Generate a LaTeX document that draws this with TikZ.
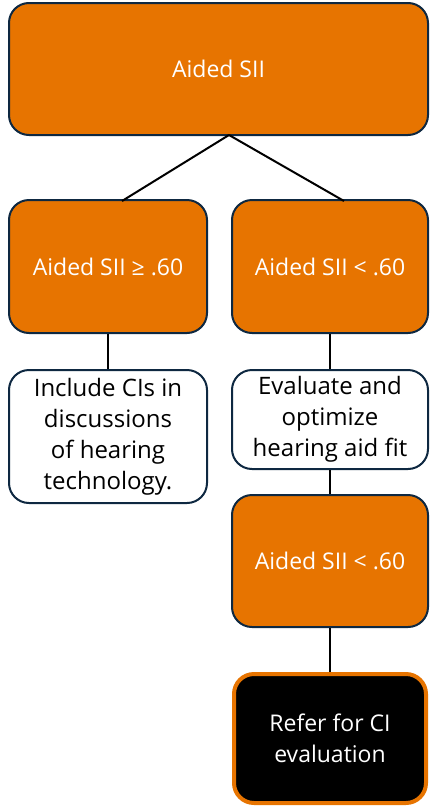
\documentclass[tikz,border=0pt]{standalone}
\usepackage{fontspec}
\setmainfont{Open Sans}
\definecolor{boxorange}{HTML}{E77400}
\definecolor{boxnavy}{HTML}{0E2841}
\tikzset{
  base/.style={rounded corners=20pt, line width=2pt, draw=boxnavy, align=center, inner sep=0pt,
     font=\fontsize{24}{31}\selectfont},
  orangebox/.style={base, fill=boxorange, text=white, font=\fontsize{23}{31}\selectfont},
  whitebox/.style={base, fill=white, text=black},
  blackbox/.style={base, fill=black, text=white, draw=boxorange, line width=4pt, font=\fontsize{23}{31}\selectfont},
  link/.style={line width=2pt, draw=black}
}
\begin{document}
\begin{tikzpicture}[x=1pt,y=-1pt]
\useasboundingbox (0,0) rectangle (429,809);
\node[orangebox, minimum width=419pt, minimum height=132pt] (top) at (218.5,69) {Aided SII};
\node[orangebox, minimum width=198pt, minimum height=133pt] (ge) at (108,266.5) {Aided SII ≥ .60};
\node[orangebox, minimum width=196pt, minimum height=133pt] (lt) at (330,266.5) {Aided SII < .60};
\node[whitebox, minimum width=198pt, minimum height=133pt] (incl) at (108,436.5) {Include CIs in\\discussions\\of hearing\\technology.};
\node[whitebox, minimum width=196pt, minimum height=99pt] (eval) at (330,419.5) {Evaluate and\\optimize\\hearing aid fit};
\node[orangebox, minimum width=196pt, minimum height=132pt] (lt2) at (330,561) {Aided SII < .60};
\node[blackbox, minimum width=192pt, minimum height=129pt] (refer) at (330,738.5) {Refer for CI\\evaluation};
\coordinate (apex) at (229,135);
\coordinate (gtop) at (122,201);
\coordinate (ltop) at (344,201);
\draw[link] (apex) -- (gtop);
\draw[link] (apex) -- (ltop);
\draw[link] (ge) -- (incl);
\draw[link] (lt) -- (eval);
\draw[link] (eval) -- (lt2);
\draw[link] (lt2) -- (refer);
\end{tikzpicture}
\end{document}
